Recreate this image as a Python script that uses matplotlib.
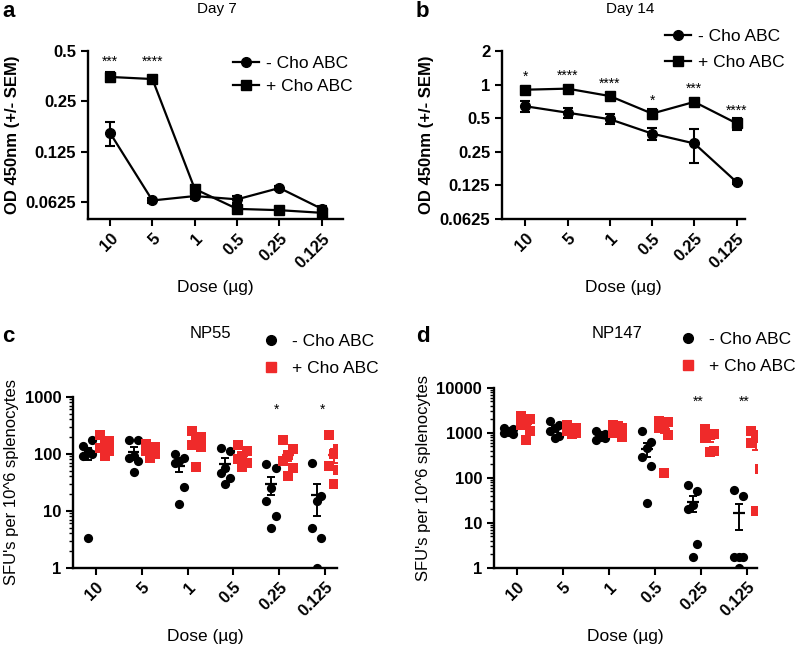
import numpy as np
import matplotlib
matplotlib.use('Agg')
import matplotlib.pyplot as plt
from matplotlib.ticker import FixedLocator, NullLocator, LogLocator, FixedFormatter
from matplotlib.lines import Line2D

plt.rcParams['font.family'] = ['Liberation Sans', 'DejaVu Sans']

doses = ['10', '5', '1', '0.5', '0.25', '0.125']

# panel a - Day 7 ELISA
a_minus = [0.162, 0.064, 0.068, 0.065, 0.076, 0.057]
a_minus_sem = [0.027, 0.002, 0.003, 0.003, 0.002, 0.002]
a_plus = [0.35, 0.34, 0.075, 0.057, 0.056, 0.054]
a_plus_sem = [0.025, 0.015, 0.004, 0.003, 0.002, 0.003]
a_stars = ['***', '****', '', '', '', '']

# panel b - Day 14 ELISA
b_minus = [0.64, 0.56, 0.49, 0.364, 0.297, 0.134]
b_minus_sem = [0.07, 0.06, 0.05, 0.045, 0.1, 0.005]
b_plus = [0.90, 0.92, 0.79, 0.55, 0.70, 0.45]
b_plus_sem = [0.02, 0.02, 0.03, 0.06, 0.03, 0.055]
b_stars = ['*', '****', '****', '*', '***', '****']

# panel c - NP55 ELISpot (6 mice per group)
c_minus = [[135, 175, 110, 90, 100, 3.3],
           [175, 175, 90, 85, 75, 48],
           [100, 83, 75, 70, 26, 13],
           [125, 110, 55, 45, 38, 29],
           [65, 55, 25, 15, 8, 5],
           [70, 18, 15, 5, 3.3, 1]]
c_plus = [[210, 170, 140, 125, 110, 90],
          [150, 130, 120, 110, 100, 85],
          [250, 200, 170, 140, 130, 58],
          [140, 110, 90, 80, 70, 58],
          [175, 120, 95, 75, 55, 40],
          [210, 120, 100, 62, 52, 29]]
c_stars = ['', '', '', '', '*', '*']

# panel d - NP147 ELISpot
d_minus = [[1300, 1200, 1050, 1000, 950, 1100],
           [1800, 1500, 1300, 1100, 850, 750],
           [1100, 950, 800, 700, 750, 900],
           [1100, 620, 450, 290, 180, 27],
           [70, 50, 25, 20, 3.3, 1.7],
           [53, 40, 1.7, 1.7, 1.7, 1]]
d_plus = [[2300, 2000, 1700, 1500, 1100, 700],
          [1500, 1300, 1200, 1100, 1000, 950],
          [1500, 1300, 1200, 1000, 800, 1400],
          [1800, 1700, 1600, 1300, 900, 125],
          [1200, 950, 900, 750, 400, 380],
          [1100, 900, 750, 600, 160, 18]]
d_stars = ['', '', '', '', '**', '**']

red = '#ef2a2a'
W, H = 800, 651
fig = plt.figure(figsize=(8, 6.51), dpi=100)


def add_ax(l, r, t, b):
    return fig.add_axes([l / W, 1 - b / H, (r - l) / W, (b - t) / H])


def fig_anchor(x, y):
    return (x / W, 1 - y / H)


def style(ax):
    for s in ['top', 'right']:
        ax.spines[s].set_visible(False)
    for s in ['left', 'bottom']:
        ax.spines[s].set_linewidth(1.7)
    ax.tick_params(width=1.5, length=5, labelsize=12)
    ax.set_xticks(range(6))
    ax.set_xticklabels(doses, rotation=45, ha='right', rotation_mode='anchor', fontweight='bold')
    for lab in ax.get_yticklabels():
        lab.set_fontweight('bold')
    ax.set_xlabel('Dose (\u00b5g)', fontsize=12.5, labelpad=7)


def line_panel(ax, minus, msem, plus, psem, yt, ylab, ylim):
    x = np.arange(6)
    ax.errorbar(x, minus, yerr=msem, fmt='-o', color='black', ms=7, lw=1.6,
                capsize=3.5, elinewidth=1.5, capthick=1.5)
    ax.errorbar(x, plus, yerr=psem, fmt='-s', color='black', ms=7, lw=1.6,
                capsize=3.5, elinewidth=1.5, capthick=1.5)
    ax.set_yscale('log', base=2)
    ax.set_ylim(*ylim)
    ax.yaxis.set_major_locator(FixedLocator(yt))
    ax.yaxis.set_major_formatter(FixedFormatter(ylab))
    ax.yaxis.set_minor_locator(NullLocator())
    ax.set_ylabel('OD 450nm (+/- SEM)', fontsize=12, fontweight='bold')


def line_legend(ax, anchor, spacing):
    ax.legend(handles=[Line2D([], [], marker='o', color='black', ms=7, lw=1.6),
                       Line2D([], [], marker='s', color='black', ms=7, lw=1.6)],
              labels=['- Cho ABC', '+ Cho ABC'], frameon=False, fontsize=12.5,
              loc='upper left', bbox_to_anchor=anchor, bbox_transform=fig.transFigure,
              borderpad=0, borderaxespad=0, handlelength=1.5, handletextpad=0.4,
              labelspacing=spacing)


def dot_panel(ax, minus, plus, ylim, yt, anchor):
    jit = np.array([-1, 1, 0, -1, 1, 0]) * 0.1
    for i in range(6):
        for vals, off, col, mk in [(minus[i], -0.18, 'black', 'o'), (plus[i], 0.19, red, 's')]:
            v = np.array(vals)
            xc = i + off
            ax.scatter(xc + jit[:len(v)], v, s=44, color=col, marker=mk, zorder=3, linewidths=0)
            m = v.mean()
            sem = v.std(ddof=1) / np.sqrt(len(v))
            ax.hlines(m, xc - 0.13, xc + 0.13, color=col, lw=1.6, zorder=4)
            ax.errorbar(xc, m, yerr=sem, fmt='none', ecolor=col, capsize=3, elinewidth=1.4,
                        capthick=1.4, zorder=4)
    ax.set_yscale('log')
    ax.set_ylim(*ylim)
    ax.yaxis.set_major_locator(FixedLocator(yt))
    ax.yaxis.set_major_formatter(FixedFormatter([str(t) for t in yt]))
    ax.yaxis.set_minor_locator(LogLocator(base=10, subs=np.arange(2, 10)))
    ax.tick_params(axis='y', which='minor', length=3, width=1)
    ax.set_ylabel("SFU's per 10^6 splenocytes", fontsize=12)
    ax.legend(handles=[Line2D([], [], ls='none', marker='o', color='black', ms=7),
                       Line2D([], [], ls='none', marker='s', color=red, ms=7)],
              labels=['- Cho ABC', '+ Cho ABC'], frameon=False, fontsize=12.5,
              loc='upper left', bbox_to_anchor=anchor, bbox_transform=fig.transFigure,
              borderpad=0, borderaxespad=0, handlelength=0.8, handletextpad=0.8,
              labelspacing=0.65)


# a
axa = add_ax(88, 343, 51, 219)
line_panel(axa, a_minus, a_minus_sem, a_plus, a_plus_sem,
           [0.0625, 0.125, 0.25, 0.5], ['0.0625', '0.125', '0.25', '0.5'], (0.0496, 0.5))
axa.set_xlim(-0.52, 5.5)
for i, s in enumerate(a_stars):
    if s:
        axa.text(i, 0.43, s, ha='center', va='center', fontsize=10)
line_legend(axa, fig_anchor(233, 56), 0.45)
style(axa)

# b
axb = add_ax(502, 745, 51, 219)
line_panel(axb, b_minus, b_minus_sem, b_plus, b_plus_sem,
           [0.0625, 0.125, 0.25, 0.5, 1, 2], ['0.0625', '0.125', '0.25', '0.5', '1', '2'], (0.0625, 2))
axb.set_xlim(-0.55, 5.2)
for i, s in enumerate(b_stars):
    axb.text(i, b_plus[i] * 1.3, s, ha='center', va='center', fontsize=10)
line_legend(axb, fig_anchor(665, 29), 0.6)
style(axb)

# c
axc = add_ax(73, 337, 396.7, 567.7)
dot_panel(axc, c_minus, c_plus, (1, 1000), [1, 10, 100, 1000], fig_anchor(264, 334))
axc.set_xlim(-0.5, 5.26)
for i, s in enumerate(c_stars):
    if s:
        axc.text(i - 0.05, 600, s, ha='center', va='center', fontsize=10)
style(axc)

# d
axd = add_ax(494, 757, 387.7, 567.7)
dot_panel(axd, d_minus, d_plus, (1, 10000), [1, 10, 100, 1000, 10000], fig_anchor(681, 332))
axd.set_xlim(-0.5, 5.22)
for i, s in enumerate(d_stars):
    if s:
        axd.text(i - 0.05, 4900, s, ha='center', va='center', fontsize=10)
style(axd)

# titles and panel letters
fig.text(217 / W, 1 - 9 / H, 'Day 7', ha='center', va='center', fontsize=11)
fig.text(630 / W, 1 - 9 / H, 'Day 14', ha='center', va='center', fontsize=11)
fig.text(210 / W, 1 - 334 / H, 'NP55', ha='center', va='center', fontsize=12)
fig.text(617 / W, 1 - 334 / H, 'NP147', ha='center', va='center', fontsize=12)
for lab, x, y in [('a', 2, 1), ('b', 416, 1), ('c', 2, 326), ('d', 416, 326)]:
    fig.text(x / W, 1 - y / H, lab, ha='left', va='top', fontsize=16, fontweight='bold')

fig.savefig('out.png', dpi=100)
